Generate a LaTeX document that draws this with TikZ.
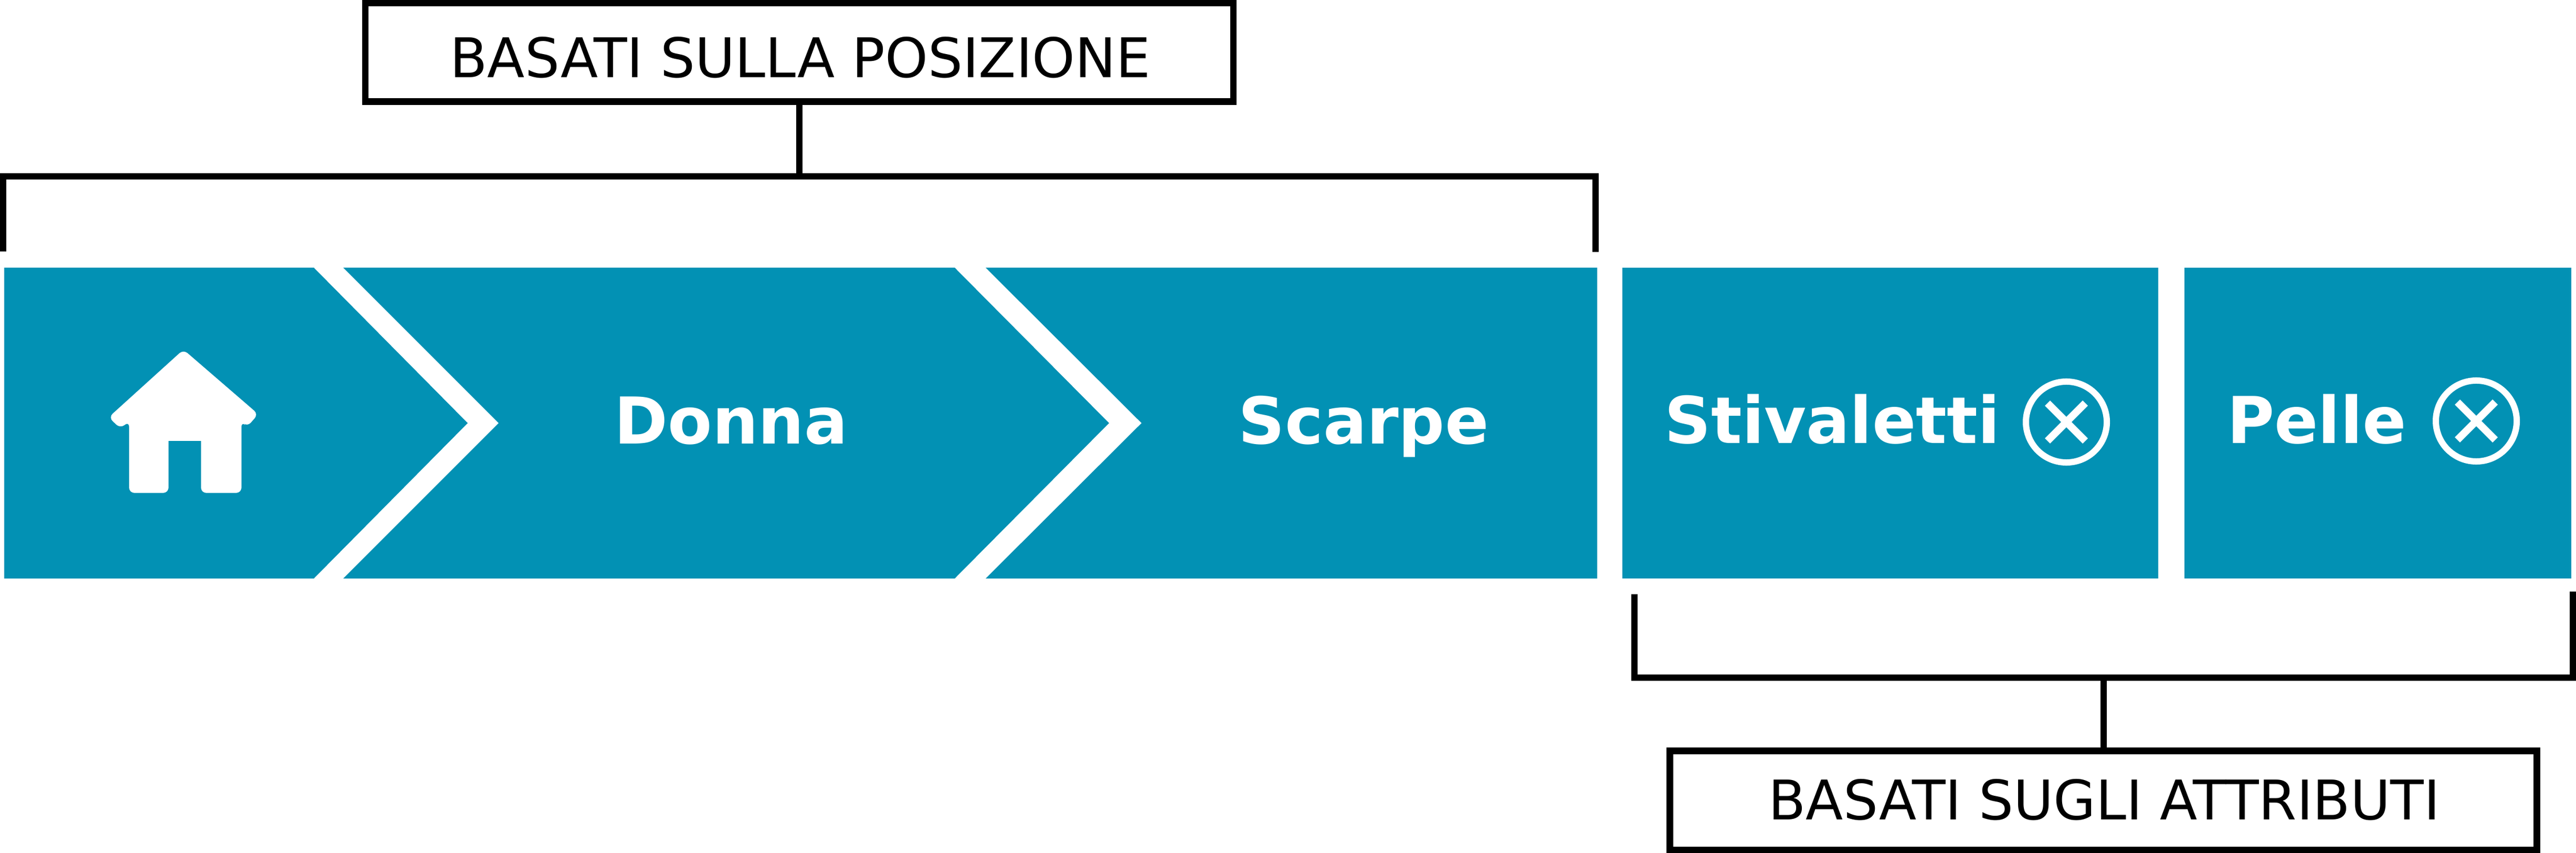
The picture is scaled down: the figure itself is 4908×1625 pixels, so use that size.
\documentclass[tikz,border=0pt]{standalone}
\usepackage{fontspec}
\setmainfont{DejaVu Sans}
\definecolor{crumb}{RGB}{2,145,180}
\tikzset{
  labelbox/.style={draw=black,line width=0.125cm,fill=white,inner sep=0pt,outer sep=0pt},
  bracketline/.style={draw=black,line width=0.12cm,line cap=butt,miter limit=10},
  labeltext/.style={text=black,anchor=base,inner sep=0pt,font=\fontsize{29.6}{30}\selectfont},
  crumbtext/.style={text=white,anchor=base,inner sep=0pt,font=\fontsize{35}{36}\selectfont\bfseries},
  crumbfill/.style={fill=crumb,draw=none},
  closering/.style={draw=white,line width=0.12cm,fill=none},
  closecross/.style={draw=white,line width=0.14cm,line cap=butt}
}
\begin{document}
\begin{tikzpicture}[x=0.01cm,y=-0.01cm]
\useasboundingbox (0,0) rectangle (4908,1625);
% chevrons
\fill[crumbfill] (8,510) -- (598,510) -- (891,806) -- (598,1102) -- (8,1102) -- cycle;
\fill[crumbfill] (654,510) -- (1819,510) -- (2113,806) -- (1819,1102) -- (654,1102) -- (950,806) -- cycle;
\fill[crumbfill] (1878,510) -- (3043,510) -- (3043,1102) -- (1878,1102) -- (2175,806) -- cycle;
\fill[crumbfill] (3091,510) rectangle (4112,1102);
\fill[crumbfill] (4162,510) rectangle (4899,1102);
% house icon
\fill[white,rounded corners=0.1cm] (349.5,666) -- (492,789) -- (471,813) -- (460,803) -- (460,939) -- (383,939) -- (383,840) [sharp corners] -- (383,840) -- (321,840) [rounded corners=0.1cm] -- (321,939) -- (246,939) -- (246,803) -- (229,816) -- (207,795) -- cycle;
% crumb labels
\node[crumbtext] (donna) at (1393,846) {Donna};
\node[crumbtext] (scarpe) at (2598,846) {Scarpe};
\node[crumbtext] (stivaletti) at (3491,844) {Stivaletti};
\node[crumbtext] (pelle) at (4414,844) {Pelle};
% close icons
\node[circle,closering,minimum size=1.54cm,inner sep=0pt] (closeA) at (3937,804) {};
\draw[closecross] (3901,768) -- (3973,840) (3901,840) -- (3973,768);
\node[circle,closering,minimum size=1.54cm,inner sep=0pt] (closeB) at (4718,802) {};
\draw[closecross] (4682,766) -- (4754,838) (4682,838) -- (4754,766);
% label boxes
\node[labelbox,minimum width=16.53cm,minimum height=1.875cm] (posbox) at (1523,99.5) {};
\node[labeltext] (postext) at (1525,148) {BASATI SULLA POSIZIONE};
\node[labelbox,minimum width=16.51cm,minimum height=1.89cm] (attrbox) at (4007.5,1525) {};
\node[labeltext] (attrtext) at (4009,1561) {BASATI SUGLI ATTRIBUTI};
% brackets
\coordinate (posL) at (6,479);
\coordinate (posJ) at (1523,336);
\coordinate (posR) at (3040,480);
\coordinate (attrL) at (3114,1132);
\coordinate (attrJ) at (4007.5,1291);
\coordinate (attrR) at (4902,1127);
\draw[bracketline] (posL) |- (posJ) -| (posR);
\draw[bracketline] (attrL) |- (attrJ) -| (attrR);
\draw[bracketline] (posbox.south) -- (posJ);
\draw[bracketline] (attrJ) -- (attrbox.north);
\end{tikzpicture}
\end{document}
